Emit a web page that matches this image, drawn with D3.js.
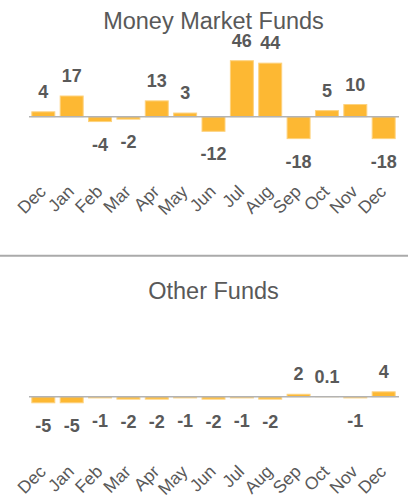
<!DOCTYPE html>
<html>
<head>
<meta charset="utf-8">
<script src="https://cdn.jsdelivr.net/npm/d3@7"></script>
<style>
  body { margin: 0; background: #fff; }
  text { font-family: "Liberation Sans", Arial, sans-serif; fill: #595959; }
</style>
</head>
<body>
<div id="chart"></div>
<script>
var months = ['Dec', 'Jan', 'Feb', 'Mar', 'Apr', 'May', 'Jun', 'Jul', 'Aug', 'Sep', 'Oct', 'Nov', 'Dec'];
var moneyMarket = [4, 17, -4, -2, 13, 3, -12, 46, 44, -18, 5, 10, -18];
var otherFunds = [-5, -5, -1, -2, -2, -1, -2, -1, -2, 2, 0.1, -1, 4];
var yDomain = [-25, 50];

var width = 408, height = 501;

var svg = d3.select('#chart')
  .append('svg')
  .attr('width', width)
  .attr('height', height);

// x positions by index so the repeated "Dec" gets its own band
var x = d3.scaleBand()
  .domain(d3.range(months.length))
  .range([29, 398])
  .paddingInner(0.19)
  .paddingOuter(0.1);

function drawPanel(title, values, zeroY, titleY) {
  var g = svg.append('g');

  // 1.217 px per unit, same in both panels
  var y = d3.scaleLinear()
    .domain(yDomain)
    .range([zeroY - yDomain[0] * 1.217, zeroY - yDomain[1] * 1.217]);

  g.append('text')
    .attr('x', 213.5)
    .attr('y', titleY)
    .attr('text-anchor', 'middle')
    .style('font-size', '23.5px')
    .text(title);

  g.selectAll('.bar')
    .data(values)
    .enter()
    .append('rect')
    .attr('class', 'bar')
    .attr('x', function(d, i) { return x(i); })
    .attr('width', x.bandwidth())
    .attr('y', function(d) { return Math.min(y(d), y(0)); })
    .attr('height', function(d) { return Math.abs(y(d) - y(0)); })
    .attr('fill', '#fdb833')
    .attr('stroke', '#fdd27e')
    .attr('stroke-width', 1);

  g.append('line')
    .attr('x1', 29)
    .attr('x2', 399)
    .attr('y1', y(0))
    .attr('y2', y(0))
    .attr('stroke', '#b3b3b3')
    .attr('stroke-width', 1.5);

  g.selectAll('.val')
    .data(values)
    .enter()
    .append('text')
    .attr('class', 'val')
    .attr('x', function(d, i) { return x(i) + x.bandwidth() / 2; })
    .attr('y', function(d) { return d >= 0 ? y(d) - 14 : y(d) + 29; })
    .attr('text-anchor', 'middle')
    .style('font-size', '18px')
    .style('font-weight', 'bold')
    .text(function(d) { return d; });

  g.selectAll('.month')
    .data(months)
    .enter()
    .append('text')
    .attr('class', 'month')
    .attr('text-anchor', 'end')
    .attr('transform', function(d, i) {
      var cx = x(i) + x.bandwidth() / 2 + 3.5;
      return 'translate(' + cx + ',' + (zeroY + 76) + ') rotate(-45)';
    })
    .style('font-size', '17.5px')
    .text(function(d) { return d; });
}

drawPanel('Money Market Funds', moneyMarket, 116.7, 29.3);

svg.append('line')
  .attr('x1', 0)
  .attr('x2', width)
  .attr('y1', 255.7)
  .attr('y2', 255.7)
  .attr('stroke', '#aaaaaa')
  .attr('stroke-width', 2);

drawPanel('Other Funds', otherFunds, 396.7, 299.3);
</script>
</body>
</html>
